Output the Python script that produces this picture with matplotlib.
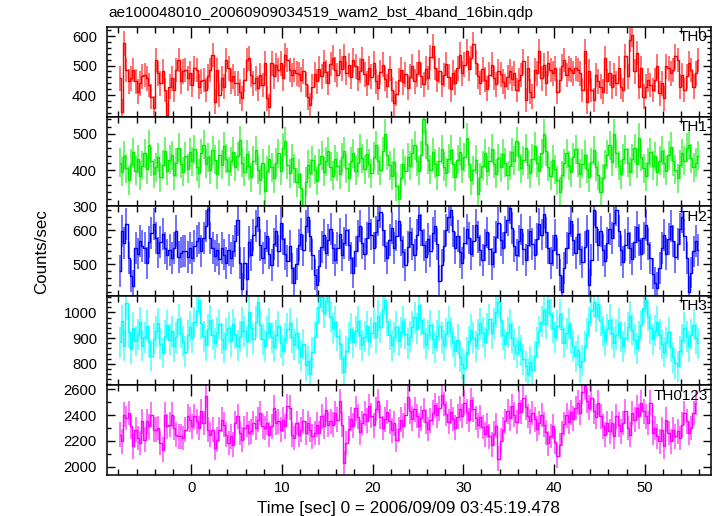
import numpy as np
import matplotlib
matplotlib.use('Agg')
import matplotlib.pyplot as plt
from matplotlib.ticker import MultipleLocator

plt.rcParams['font.family'] = ['Liberation Sans', 'DejaVu Sans']

title = "ae100048010_20060909034519_wam2_bst_4band_16bin.qdp"
xlabel = "Time [sec] 0 = 2006/09/09 03:45:19.478"
ylabel = "Counts/sec"

t_start = -7.875
bin_width = 0.25

th0 = [457,344,576,485,446,457,485,446,412,440,
       463,468,457,434,395,355,519,474,440,
       480,417,332,429,457,417,485,519,446,
       480,485,457,474,434,491,485,429,446,
       451,417,463,485,536,378,485,400,457,
       429,519,491,446,463,440,440,412,389,
       451,519,525,468,440,457,423,468,434,
       508,389,361,508,463,502,485,508,457,
       536,519,485,468,485,474,470,
       452,481,437,392,366,428,470,446,
       489,463,512,478,441,505,527,486,468,514,490,532,475,502,461,518,
       497,455,483,522,470,438,491,462,509,447,425,478,503,456,431,489,
       418,372,404,451,486,443,470,425,462,498,446,471,512,466,437,489,
       458,528,565,492,451,483,437,468,505,462,420,476,442,491,537,474,
       503,548,489,526,572,510,463,441,487,452,421,469,503,458,436,480,
       470,445,430,460,480,455,
       474,417,451,468,514,383,491,412,395,485,
       474,548,457,502,440,508,485,474,491,412,
       451,497,519,468,491,485,474,491,485,474,
       417,548,378,480,417,383,468,446,429,412,
       525,446,474,429,468,440,491,429,417,531,
       463,587,604,480,543,429,491,395,429,451,
       434,417,451,497,406,440,389,497,491,474,
       485,531,519,429,468,417,463,508,485,429,
       474,519]

th1 = [420,395,440,405,372,418,450,398,430,385,412,446,402,470,425,390,
       408,436,380,415,452,398,428,441,386,420,462,417,395,438,404,449,
       425,458,410,392,447,470,418,436,401,455,429,389,443,415,466,431,
       397,424,451,410,438,482,420,395,444,412,380,426,455,401,372,419,
       342,398,430,408,377,421,446,398,462,480,415,392,433,405,366,390,
       352,305,368,415,392,427,401,371,418,440,396,425,452,409,384,430,
       411,388,436,452,405,379,424,447,398,420,461,433,402,445,418,392,
       437,468,426,399,452,500,441,413,385,422,356,320,378,417,398,436,
       412,447,469,425,398,441,540,472,428,401,449,418,386,425,457,410,
       393,431,456,417,382,428,451,404,436,490,418,372,399,428,335,381,
       412,446,398,424,459,417,390,433,408,445,421,386,412,449,426,480,
       438,405,427,460,415,392,431,466,421,398,446,500,452,410,385,429,
       403,372,340,386,419,447,412,394,436,458,421,390,417,443,404,381,
       422,455,410,386,340,378,415,442,468,423,500,446,412,389,431,457,
       420,396,432,461,418,490,437,405,383,421,450,412,438,395,426,453,
       419,398,441,465,424,401,378,415,447,426,462,470,433,408,421,440]

th2 = [480,598,563,618,520,466,437,549,532,569,
       554,548,505,565,593,618,578,535,565,590,
       549,529,542,520,549,598,523,535,540,540,
       523,549,520,554,569,578,540,578,613,662,
       578,548,525,542,517,548,529,505,542,520,
       540,569,632,505,427,505,456,
       565,528,587,612,641,558,519,
       548,583,532,497,561,598,540,622,575,531,509,553,488,444,502,556,
       589,541,612,640,583,529,470,438,495,552,586,534,571,604,548,512,
       547,591,528,563,602,557,519,476,538,583,612,564,531,579,621,588,
       549,596,632,655,601,553,518,571,607,548,585,629,572,536,498,552,
       594,561,527,588,645,602,556,521,574,540,592,612,560,450,497,553,
       601,640,660,597,548,583,536,505,562,603,577,531,569,615,582,541,
       512,558,594,546,501,537,582,621,573,548,596,632,665,608,554,527,
       569,603,545,512,558,597,561,529,574,620,588,650,594,547,503,541,
       586,532,468,420,489,548,593,627,571,534,589,545,506,552,600,440,
       512,660,611,558,597,543,509,562,604,579,623,660,598,541,506,557,
       592,548,515,566,609,572,531,578,615,559,520,473,446,430,489,548,
       587,531,576,612,568,523,561,604,640,585,519,420,476,538,569,542]

th3 = [884,967,870,1035,922,858,941,889,915,962,871,903,948,884,832,897,
       926,958,879,842,910,951,893,927,868,904,973,921,886,847,912,944,
       901,962,1005,1050,958,907,872,935,969,913,880,921,954,898,862,917,
       940,888,953,917,871,906,962,926,887,1000,941,898,963,1040,952,896,
       870,925,958,903,866,912,947,881,851,899,936,957,903,874,918,861,
       832,877,795,812,762,845,903,962,1020,1060,998,1045,1062,984,939,963,
       908,876,822,770,848,901,937,884,926,965,912,873,906,947,889,921,
       958,903,987,942,1012,1050,968,914,872,903,945,889,923,966,917,878,
       905,944,981,936,1030,972,918,879,912,951,897,864,909,948,903,872,
       917,963,924,885,849,893,828,801,782,846,889,932,901,868,915,958,
       921,884,936,973,919,958,1002,1040,966,912,877,923,955,901,874,842,
       889,852,818,790,762,808,775,829,884,927,963,1008,956,1050,992,941,
       903,948,992,937,882,918,956,904,871,829,853,786,812,868,917,962,
       1008,1040,985,1032,968,925,889,934,971,918,882,913,957,905,868,902,
       943,986,932,894,861,907,950,1018,1050,987,939,896,928,963,914,877,
       846,883,922,866,825,803,790,848,893,941,905,868,914,952,899,880]

th0123 = [2249,2196,2405,2379,2418,2314,2157,2288,2223,2184,
          2353,2209,2353,2314,2405,2288,2288,2301,
          2184,2131,2405,2314,2327,2405,2301,2249,2236,2236,
          2223,2288,2392,2366,2314,2392,2353,2301,2431,2340,
          2548,2288,2249,2288,2144,2209,2288,2366,2327,2249,
          2184,2236,2170,2340,2392,2262,2209,2301,2327,2262,
          2275,2340,2301,2366,2418,2314,2301,2340,2249,2314,
          2457,2340,2353,2288,2366,2314,2470,2457,2249,2223,
          2340,2249,2288,2353,2262,2340,2288,2236,2262,2327,
          2262,2392,2314,2444,2327,2353,2327,2418,2366,2509,
          2327,2028,
          2184,2296,2371,2318,2452,2389,2266,2340,2412,2357,2468,
          2395,2322,2447,2510,2386,2301,2368,2425,2352,2283,2337,2206,2291,2364,2318,2402,
          2545,2431,2372,2446,2393,2318,2375,2438,2349,2292,2361,2419,2476,2398,2452,2560,
          2487,2412,2350,2428,2371,2302,2388,2451,2394,2497,2427,2362,2518,2446,2379,2321,
          2385,2307,2252,2318,2236,2170,2255,2318,2062,2203,2286,2352,2431,2376,2468,2405,
          2347,2498,2425,2536,2462,2393,2351,2417,2368,2294,2339,2402,2327,2268,2181,2239,
          2312,2195,2082,2168,2259,2331,2398,2347,2421,2372,2456,2498,2420,2580,2625,2512,
          2459,2530,2431,2388,
          2496,2392,2314,2249,2340,2275,2340,2236,2392,2327,
          2275,2340,2431,2301,2249,2418,2366,2457,2392,2496,
          2431,2392,2340,2496,2262,2301,2236,2197,2288,2158,
          2366,2262,2197,2288,2236,2275,2223,2327,2418,2353,
          2262,2301,2418,2496]

names = ["TH0", "TH1", "TH2", "TH3", "TH0123"]
series = [th0, th1, th2, th3, th0123]
errors = [42, 40, 47, 60, 96]
colors = ["#ff0000", "#00ee00", "#0000ff", "#00ffff", "#ff00ff"]
ylims = [(326, 630), (300, 547), (407, 671), (716, 1064), (1935, 2631)]
ymajor = [100, 100, 100, 100, 200]
yminor = [20, 20, 20, 20, 100]
xlim = (-9.3, 57.3)

W, H = 717, 516
fig = plt.figure(figsize=(W / 100, H / 100), dpi=100)
left_px, right_px, top_px, bot_px = 106.7, 711.0, 27.3, 475.0
ph = (bot_px - top_px) / 5

for k in range(5):
    y0 = 1 - (top_px + (k + 1) * ph) / H
    ax = fig.add_axes([left_px / W, y0, (right_px - left_px) / W, ph / H])
    v = np.array(series[k], dtype=float)
    t = t_start + bin_width * np.arange(len(v))
    c = colors[k]
    ax.vlines(t, v - errors[k], v + errors[k], color=c, lw=1.3, alpha=0.6)
    ax.step(t, v, where='mid', color=c, lw=1.0)
    ax.set_xlim(*xlim)
    ax.set_ylim(*ylims[k])
    ax.xaxis.set_major_locator(MultipleLocator(10))
    ax.xaxis.set_minor_locator(MultipleLocator(2))
    ax.yaxis.set_major_locator(MultipleLocator(ymajor[k]))
    ax.yaxis.set_minor_locator(MultipleLocator(yminor[k]))
    ax.tick_params(which='both', direction='in', top=True, right=True,
                   width=1.0, labelsize=10.7, colors='black')
    ax.tick_params(axis='x', which='major', length=8)
    ax.tick_params(axis='x', which='minor', length=4)
    ax.tick_params(axis='y', which='major', length=6, pad=7)
    ax.tick_params(axis='y', which='minor', length=3)
    for s in ax.spines.values():
        s.set_linewidth(1.1)
    if k < 4:
        ax.tick_params(axis='x', labelbottom=False)
    else:
        ax.tick_params(axis='x', pad=4)
    ax.text(0.995, 0.965, names[k], transform=ax.transAxes, ha='right', va='top',
            fontsize=11)

fig.text(108 / W, 1 - 13.5 / H, title, ha='left', va='center', fontsize=11)
fig.text((left_px + right_px) / 2 / W, 1 - 508 / H, xlabel, ha='center', va='center',
         fontsize=12.3)
fig.text(42 / W, 1 - 252 / H, ylabel, ha='center', va='center', rotation=90,
         fontsize=12.2)

fig.savefig("out.png", dpi=100)
